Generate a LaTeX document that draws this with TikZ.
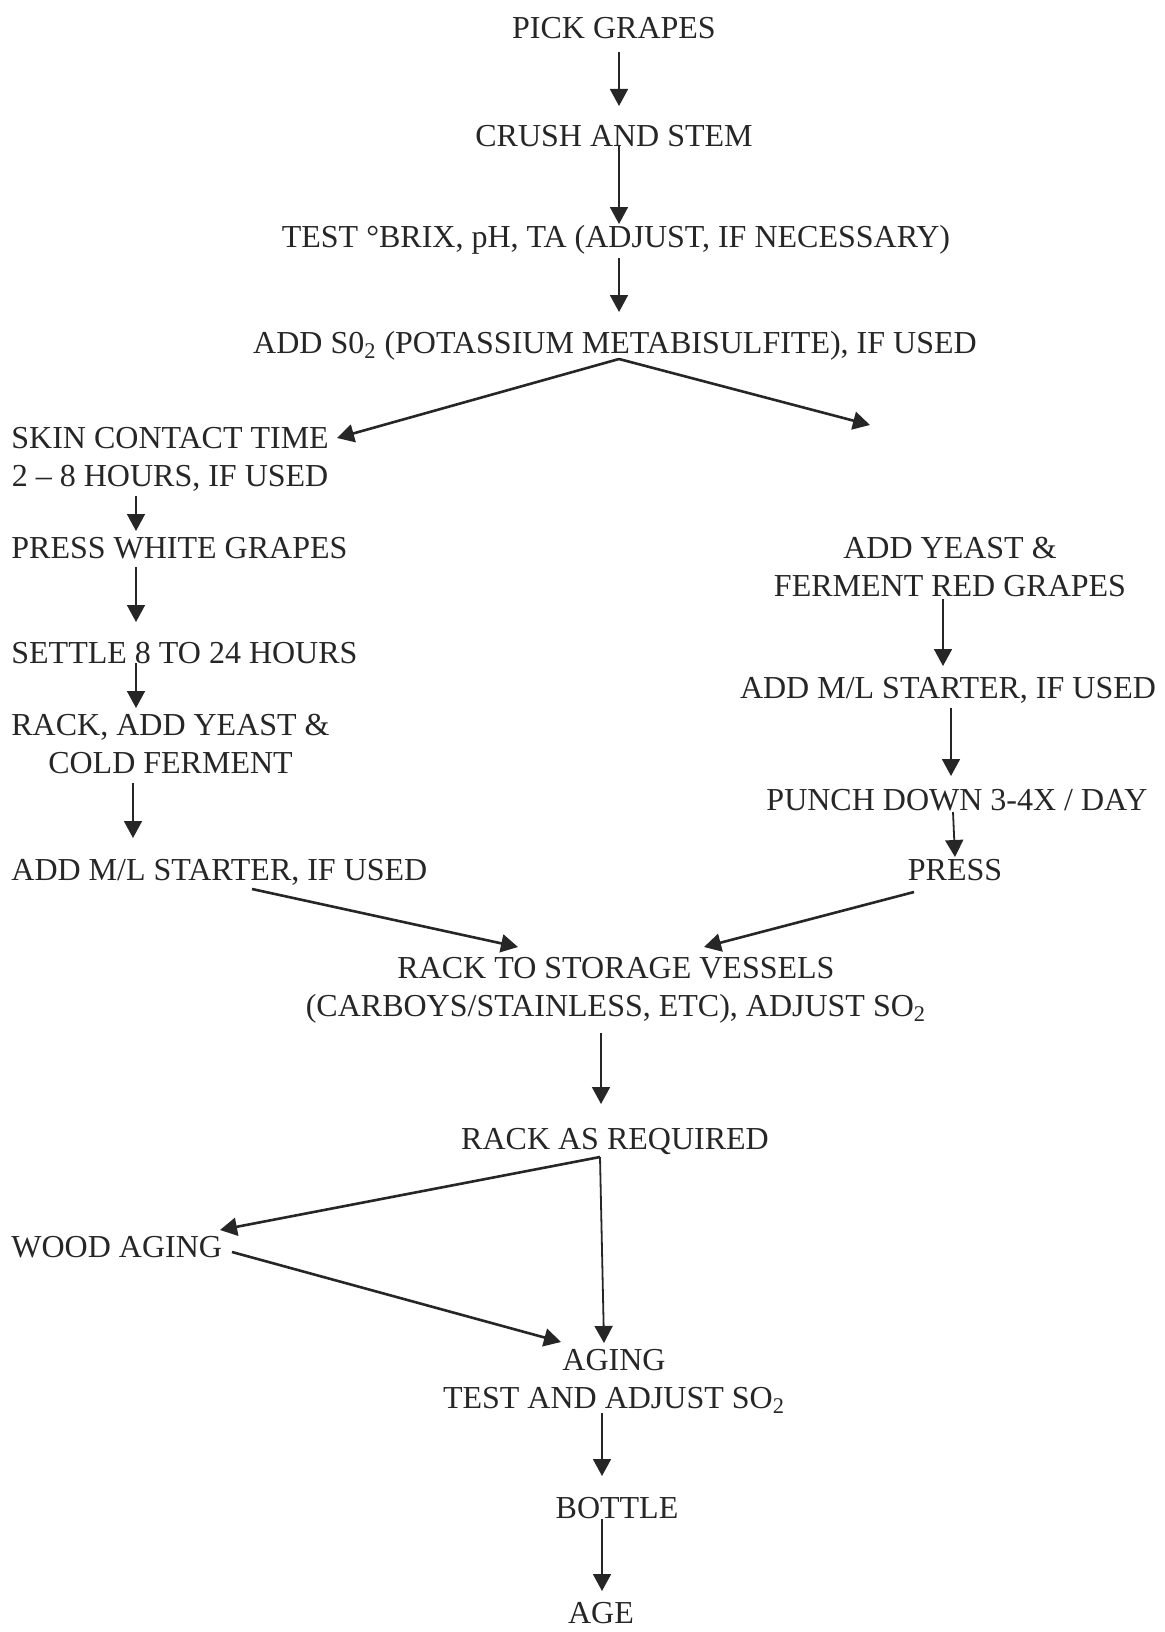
\documentclass[tikz,border=0pt]{standalone}
\usepackage{fontspec}
\setmainfont{Liberation Serif}
\usetikzlibrary{arrows.meta,calc}

\begin{document}
\begin{tikzpicture}[x=0.5pt,y=-0.5pt]
				\tikzstyle{every node}=[font=\fontsize{16}{19}\selectfont, text=black!85,
				inner sep=0pt, text height=10.6pt, text depth=0pt]
				\tikzstyle{twoline}=[align=center, text height={}, text depth={}]
				\tikzstyle{flow}=[draw=black!85, line width=0.9pt,
				-{Triangle[length=8.5pt,width=9pt]}]
				\tikzstyle{branch}=[flow, line width=1.3pt]
				\useasboundingbox (0,0) rectangle (1164,1632);
				% main line
				\node (pick) at (614,28) {PICK GRAPES};
				\node (crush) at (614,136) {CRUSH AND STEM};
				\node (test) at (616,237) {TEST °BRIX, pH, TA (ADJUST, IF NECESSARY)};
				\node (addso) at (615,343) {ADD S0\textsubscript{2} (POTASSIUM METABISULFITE), IF USED};
				% white grapes
				\node[twoline, anchor=west] (skin) at (11,459) {SKIN CONTACT TIME\\2 -- 8 HOURS, IF USED};
				\node[anchor=west] (pressw) at (11,548) {PRESS WHITE GRAPES};
				\node[anchor=west] (settle) at (11,653) {SETTLE 8 TO 24 HOURS};
				\node[twoline, anchor=west] (rackyeast) at (11,744) {RACK, ADD YEAST \&\\COLD FERMENT};
				\node[anchor=west] (mlw) at (11,870) {ADD M/L STARTER, IF USED};
				% red grapes
				\node[twoline] (ferment) at (950,567) {ADD YEAST \&\\FERMENT RED GRAPES};
				\node (mlr) at (948,688) {ADD M/L STARTER, IF USED};
				\node (punch) at (957,800) {PUNCH DOWN 3-4X / DAY};
				\node (press) at (955,870) {PRESS};
				% storage and aging
				\node[twoline] (storage) at (616,990) {RACK TO STORAGE VESSELS\\(CARBOYS/STAINLESS, ETC), ADJUST SO\textsubscript{2}};
				\node (rackreq) at (615,1139) {RACK AS REQUIRED};
				\node[anchor=west] (wood) at (11,1247) {WOOD AGING};
				\node[twoline] (aging) at (614,1381) {AGING\\TEST AND ADJUST SO\textsubscript{2}};
				\node (bottle) at (617,1508) {BOTTLE};
				\node (age) at (601,1613) {AGE};
				\coordinate (split1) at ($(addso)+(4,16)$);
				\coordinate (redside) at (870,425);
				\coordinate (split2) at ($(rackreq)+(-15,18)$);
				% arrows
				\draw[flow] ($(pick)+(5,24)$) -- ($(crush)+(5,-30)$);
				\draw[flow] ($(crush)+(5,10)$) -- ($(test)+(3,-13)$);
				\draw[flow] ($(test)+(3,21)$) -- ($(addso)+(4,-31)$);
				\draw[branch] (split1) -- ($(skin.west)+(326,-21)$);
				\draw[branch] (split1) -- (redside);
				\draw[flow] ($(skin.west)+(125,37)$) -- ($(pressw.west)+(125,-17)$);
				\draw[flow] ($(pressw.west)+(125,19)$) -- ($(settle.west)+(125,-31)$);
				\draw[flow] ($(settle.west)+(125,10)$) -- ($(rackyeast.west)+(125,-36)$);
				\draw[flow] ($(rackyeast.west)+(122,39)$) -- ($(mlw.west)+(122,-32)$);
				\draw[branch] ($(mlw.west)+(241,19)$) -- ($(storage)+(-98,-43)$);
				\draw[flow] ($(ferment)+(-7,32)$) -- ($(mlr)+(-5,-22)$);
				\draw[flow] ($(mlr)+(3,20)$) -- ($(punch)+(-6,-24)$);
				\draw[flow] ($(punch)+(-4,12)$) -- ($(press)+(0,-13)$);
				\draw[branch] ($(press)+(-41,22)$) -- ($(storage)+(88,-43)$);
				\draw[flow] ($(storage)+(-15,43)$) -- ($(rackreq)+(-14,-35)$);
				\draw[branch] (split2) -- ($(wood.west)+(209,-17)$);
				\draw[flow] (split2) -- ($(aging)+(-10,-38)$);
				\draw[branch] ($(wood.west)+(221,5)$) -- ($(aging)+(-53,-39)$);
				\draw[flow] ($(aging)+(-12,32)$) -- ($(bottle)+(-15,-32)$);
				\draw[flow] ($(bottle)+(-15,11)$) -- ($(age)+(1,-22)$);
				\end{tikzpicture}
\end{document}
